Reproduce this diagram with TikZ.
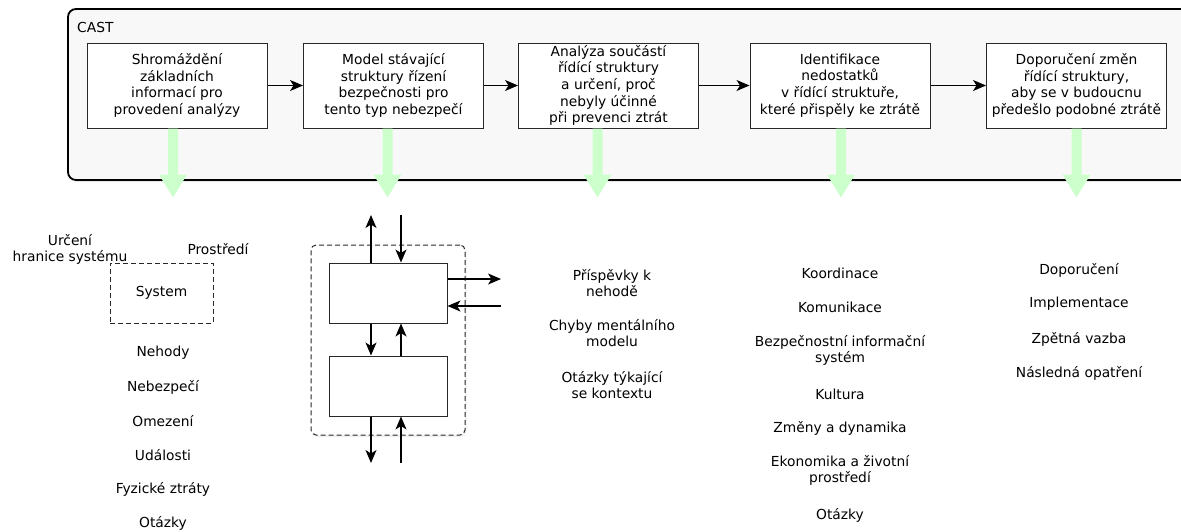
\documentclass[tikz,border=0pt]{standalone}
\usepackage{fontspec}
\setmainfont{DejaVu Sans}
\usetikzlibrary{arrows.meta,shadows,calc}
\definecolor{paleGreen}{RGB}{204,255,204}
\definecolor{frameFill}{RGB}{248,248,248}
\definecolor{lineGray}{RGB}{40,40,40}
\begin{document}
\begin{tikzpicture}[x=1pt,y=-1pt,
  font=\fontsize{13.8}{16.7}\selectfont,
  castframe/.style={draw=black, line width=1.8pt, rounded corners=8pt, fill=frameFill,
    drop shadow={opacity=0.18, shadow xshift=1.5pt, shadow yshift=-2pt},
    minimum width=1127pt, minimum height=171pt, inner sep=0pt},
  stepbox/.style={draw=lineGray, line width=1pt, fill=white, minimum width=180pt,
    minimum height=85pt, align=center, inner sep=0pt},
  flow/.style={draw=black, line width=1.1pt, -{Stealth[length=13pt,width=11pt,inset=3.5pt]}},
  outflow/.style={fill=paleGreen},
  plain/.style={align=center, inner sep=0pt, font=\fontsize{13.8}{16}\selectfont},
  block/.style={draw=lineGray, line width=1pt, fill=white, minimum width=118pt, minimum height=60pt},
  bounddash/.style={draw=lineGray, line width=1pt, dash pattern=on 5pt off 3pt}
]
\useasboundingbox (0,0) rectangle (1181,531);

% CAST frame and its title
\node[castframe] (cast) at (631.5,94.5) {};
\node[anchor=west, inner sep=0pt] (casttitle) at (77,27) {CAST};

% the five analysis steps
\node[stepbox] (b1) at (177,85.5) {Shromáždění\\základních\\informací pro\\provedení analýzy};
\node[stepbox] (b2) at (393.5,85.5) {Model stávající\\struktury řízení\\bezpečnosti pro\\tento typ nebezpečí};
\node[stepbox] (b3) at (608.5,85.5) {Analýza součástí\\řídící struktury\\a určení, proč\\nebyly účinné\\při prevenci ztrát};
\node[stepbox] (b4) at (840,85.5) {Identifikace\\nedostatků\\v řídící struktuře,\\které přispěly ke ztrátě};
\node[stepbox] (b5) at (1076.5,85.5) {Doporučení změn\\řídící struktury,\\aby se v budoucnu\\předešlo podobné ztrátě};

\draw[flow] (b1) -- (b2);
\draw[flow] (b2) -- (b3);
\draw[flow] (b3) -- (b4);
\draw[flow] (b4) -- (b5);

% wide green arrows leading to each step's outputs
\path ([xshift=-4pt]b1.south) coordinate (g1)
      ([xshift=-6pt]b2.south) coordinate (g2)
      ([xshift=-11pt]b3.south) coordinate (g3)
      ([xshift=1pt]b4.south) coordinate (g4)
      ([xshift=0pt]b5.south) coordinate (g5);
\foreach \g in {g1,g2,g3,g4,g5}{
  \fill[outflow] (\g) ++(-5,0) -- ++(10,0) -- ++(0,46) -- ++(9,0) -- ++(-14,23)
    -- ++(-14,-23) -- ++(9,0) -- cycle;
}

% step 1: system boundary and basic information
\node[plain] (bound) at (70,249.5) {Určení\\hranice systému};
\node[plain] (env) at (218,249) {Prostředí};
\node[bounddash, minimum width=103pt, minimum height=60pt] (sys) at (161.5,293) {System};
\node[plain] (i1) at (163,353) {Nehody};
\node[plain] (i2) at (163,387) {Nebezpečí};
\node[plain] (i3) at (163,421) {Omezení};
\node[plain] (i4) at (163,455) {Události};
\node[plain] (i5) at (163,489) {Fyzické ztráty};
\node[plain] (i6) at (163,523) {Otázky};

% step 2: control structure sketch
\node[bounddash, rounded corners=5pt, minimum width=154pt, minimum height=190pt,
  drop shadow={opacity=0.12, shadow xshift=1.5pt, shadow yshift=-2pt}, fill=white] (ctl) at (388,340) {};
\node[block] (up) at (388,293) {};
\node[block] (lo) at (388,386) {};
\coordinate (uo) at (371,215);
\coordinate (ui) at (401,215);
\coordinate (ro) at (501,279);
\coordinate (ri) at (501,306);
\coordinate (lo2) at (371,463);
\coordinate (li) at (401,463);
\draw[flow] (up.north -| uo) -- (uo);
\draw[flow] (ui) -- (ui |- up.north);
\draw[flow] (up.east |- ro) -- (ro);
\draw[flow] (ri) -- (up.east |- ri);
\draw[flow] (up.south -| uo) -- (lo.north -| uo);
\draw[flow] (lo.north -| ui) -- (up.south -| ui);
\draw[flow] (lo.south -| lo2) -- (lo2);
\draw[flow] (li) -- (lo.south -| li);

% step 3 outputs
\node[plain] (c1) at (612,283.5) {Příspěvky k\\nehodě};
\node[plain] (c2) at (612,333.5) {Chyby mentálního\\modelu};
\node[plain] (c3) at (612,385.5) {Otázky týkající\\se kontextu};

% step 4 outputs
\node[plain] (d1) at (840,273) {Koordinace};
\node[plain] (d2) at (840,307) {Komunikace};
\node[plain] (d3) at (840,350.5) {Bezpečnostní informační\\systém};
\node[plain] (d4) at (840,394) {Kultura};
\node[plain] (d5) at (840,428) {Změny a dynamika};
\node[plain] (d6) at (840,470.5) {Ekonomika a životní\\prostředí};
\node[plain] (d7) at (840,515) {Otázky};

% step 5 outputs
\node[plain] (e1) at (1079,270) {Doporučení};
\node[plain] (e2) at (1079,304) {Implementace};
\node[plain] (e3) at (1079,339) {Zpětná vazba};
\node[plain] (e4) at (1079,373) {Následná opatření};
\end{tikzpicture}
\end{document}
